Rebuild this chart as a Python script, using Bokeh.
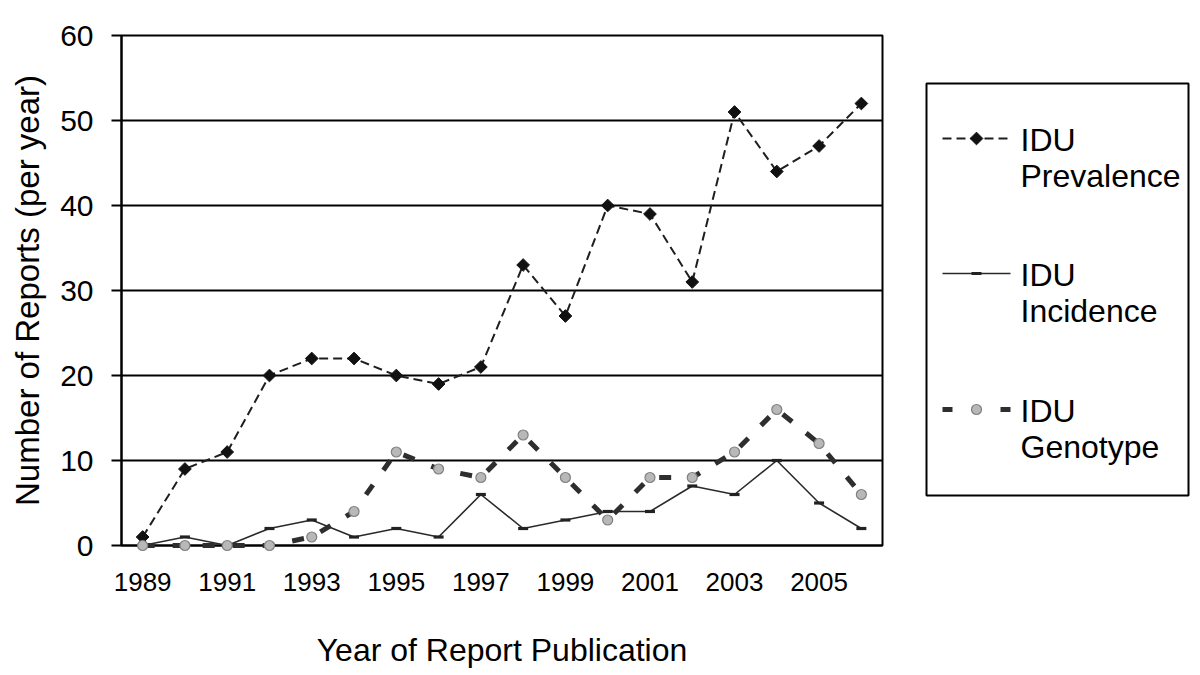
from bokeh.plotting import figure
from bokeh.models import Range1d, FixedTicker
from bokeh.layouts import row
from bokeh.embed import file_html
from bokeh.resources import INLINE
from bokeh.core.properties import value

# ---------------- data ----------------
years = [1989, 1990, 1991, 1992, 1993, 1994, 1995, 1996, 1997,
         1998, 1999, 2000, 2001, 2002, 2003, 2004, 2005, 2006]
prevalence = [1, 9, 11, 20, 22, 22, 20, 19, 21, 33, 27, 40, 39, 31, 51, 44, 47, 52]
incidence = [0, 1, 0, 2, 3, 1, 2, 1, 6, 2, 3, 4, 4, 7, 6, 10, 5, 2]
genotype = [0, 0, 0, 0, 1, 4, 11, 9, 8, 13, 8, 3, 8, 8, 11, 16, 12, 6]
x_tick_years = [1989, 1991, 1993, 1995, 1997, 1999, 2001, 2003, 2005]
y_ticks = [0, 10, 20, 30, 40, 50, 60]
series_labels = ["IDU\nPrevalence", "IDU\nIncidence", "IDU\nGenotype"]
x_title = "Year of Report Publication"
y_title = "Number of Reports (per year)"

FONT = "Liberation Sans"

# series styles
PREV_LINE = dict(line_color="#1e1e1e", line_width=2, line_dash="9 5")
PREV_MARK = dict(marker="square", angle=0.785398, size=9,
                 fill_color="#111111", line_color="#111111", line_width=1)
INC_LINE = dict(line_color="#2a2a2a", line_width=1.6)
INC_MARK = dict(marker="dash", size=10, line_color="#222222", line_width=3.2)
GEN_LINE = dict(line_color="#2e2e2e", line_width=5, line_dash="12 18")
GEN_MARK = dict(marker="circle", size=10, fill_color="#b8b8b8",
                line_color="#808080", line_width=1.2)

# ---------------- main chart ----------------
p = figure(width=908, height=675,
           x_range=Range1d(years[0] - 0.5, years[-1] + 0.5),
           y_range=Range1d(y_ticks[0], y_ticks[-1]),
           toolbar_location=None, output_backend="svg",
           min_border_left=121, min_border_right=26,
           min_border_top=35, min_border_bottom=130)
p.background_fill_color = "white"
p.border_fill_color = "white"
p.outline_line_color = "black"
p.outline_line_width = 2
p.outline_line_alpha = 1

p.xgrid.visible = False
p.ygrid.grid_line_color = "black"
p.ygrid.grid_line_width = 2
p.ygrid.ticker = FixedTicker(ticks=y_ticks)

p.yaxis.ticker = FixedTicker(ticks=y_ticks)
p.yaxis.axis_label = y_title
p.yaxis.axis_label_text_font = FONT
p.yaxis.axis_label_text_font_size = "33px"
p.yaxis.axis_label_text_font_style = "normal"
p.yaxis.axis_label_text_color = "black"
p.yaxis.axis_label_standoff = 11
p.yaxis.major_label_text_font = FONT
p.yaxis.major_label_text_font_size = "30px"
p.yaxis.major_label_text_color = "black"
p.yaxis.major_label_standoff = 18
p.yaxis.major_tick_out = 10
p.yaxis.major_tick_in = 0
p.yaxis.major_tick_line_width = 2
p.yaxis.major_tick_line_color = "black"
p.yaxis.minor_tick_line_color = None
p.yaxis.axis_line_width = 2
p.yaxis.axis_line_color = "black"

p.xaxis.ticker = FixedTicker(ticks=x_tick_years)
p.xaxis.axis_label = x_title
p.xaxis.axis_label_text_font = FONT
p.xaxis.axis_label_text_font_size = "32px"
p.xaxis.axis_label_text_font_style = "normal"
p.xaxis.axis_label_text_color = "black"
p.xaxis.axis_label_standoff = 38
p.xaxis.major_label_text_font = FONT
p.xaxis.major_label_text_font_size = "26px"
p.xaxis.major_label_text_color = "black"
p.xaxis.major_label_standoff = 27
p.xaxis.major_tick_out = 0
p.xaxis.major_tick_in = 0
p.xaxis.minor_tick_line_color = None
p.xaxis.axis_line_width = 2
p.xaxis.axis_line_color = "black"

# data series (overlay level so markers sitting on the 0 line are not cut)
p.line(years, prevalence, level="overlay", **PREV_LINE)
p.scatter(years, prevalence, level="overlay", **PREV_MARK)
p.line(years, incidence, level="overlay", **INC_LINE)
p.scatter(years, incidence, level="overlay", **INC_MARK)
p.line(years, genotype, level="overlay", **GEN_LINE)
p.scatter(years, genotype, level="overlay", **GEN_MARK)

# ---------------- legend panel (y in page pixels) ----------------
leg = figure(width=284, height=675, x_range=Range1d(0, 284), y_range=Range1d(545, 35),
             toolbar_location=None, output_backend="svg",
             x_axis_type=None, y_axis_type=None,
             min_border_left=0, min_border_right=0,
             min_border_top=35, min_border_bottom=130)
leg.outline_line_color = None
leg.grid.visible = False
leg.background_fill_color = "white"
leg.border_fill_color = "white"

leg.quad(left=[18], right=[280], top=[83], bottom=[495],
         fill_color=None, line_color="black", line_width=2)

row_y = [138, 273, 409]
text_y = [157, 292, 428]
gx0, gx1, gxm, tx = 34, 102, 68, 112

leg.line([gx0, gx1], [row_y[0], row_y[0]], **PREV_LINE)
leg.scatter([gxm], [row_y[0]], **PREV_MARK)

leg.line([gx0, gx1], [row_y[1], row_y[1]], **INC_LINE)
leg.scatter([gxm], [row_y[1]], **INC_MARK)

gen_leg_line = dict(GEN_LINE)
gen_leg_line["line_dash"] = "10 48"
leg.line([gx0, gx1], [row_y[2], row_y[2]], **gen_leg_line)
leg.scatter([gxm], [row_y[2]], **GEN_MARK)

leg.text(x=[tx] * 3, y=text_y, text=series_labels,
         text_font=value(FONT), text_font_size="32px", text_color="black",
         text_align="left", text_baseline="middle", text_line_height=1.0)

layout = row(p, leg)
open("out.html", "w").write(file_html(layout, INLINE))
